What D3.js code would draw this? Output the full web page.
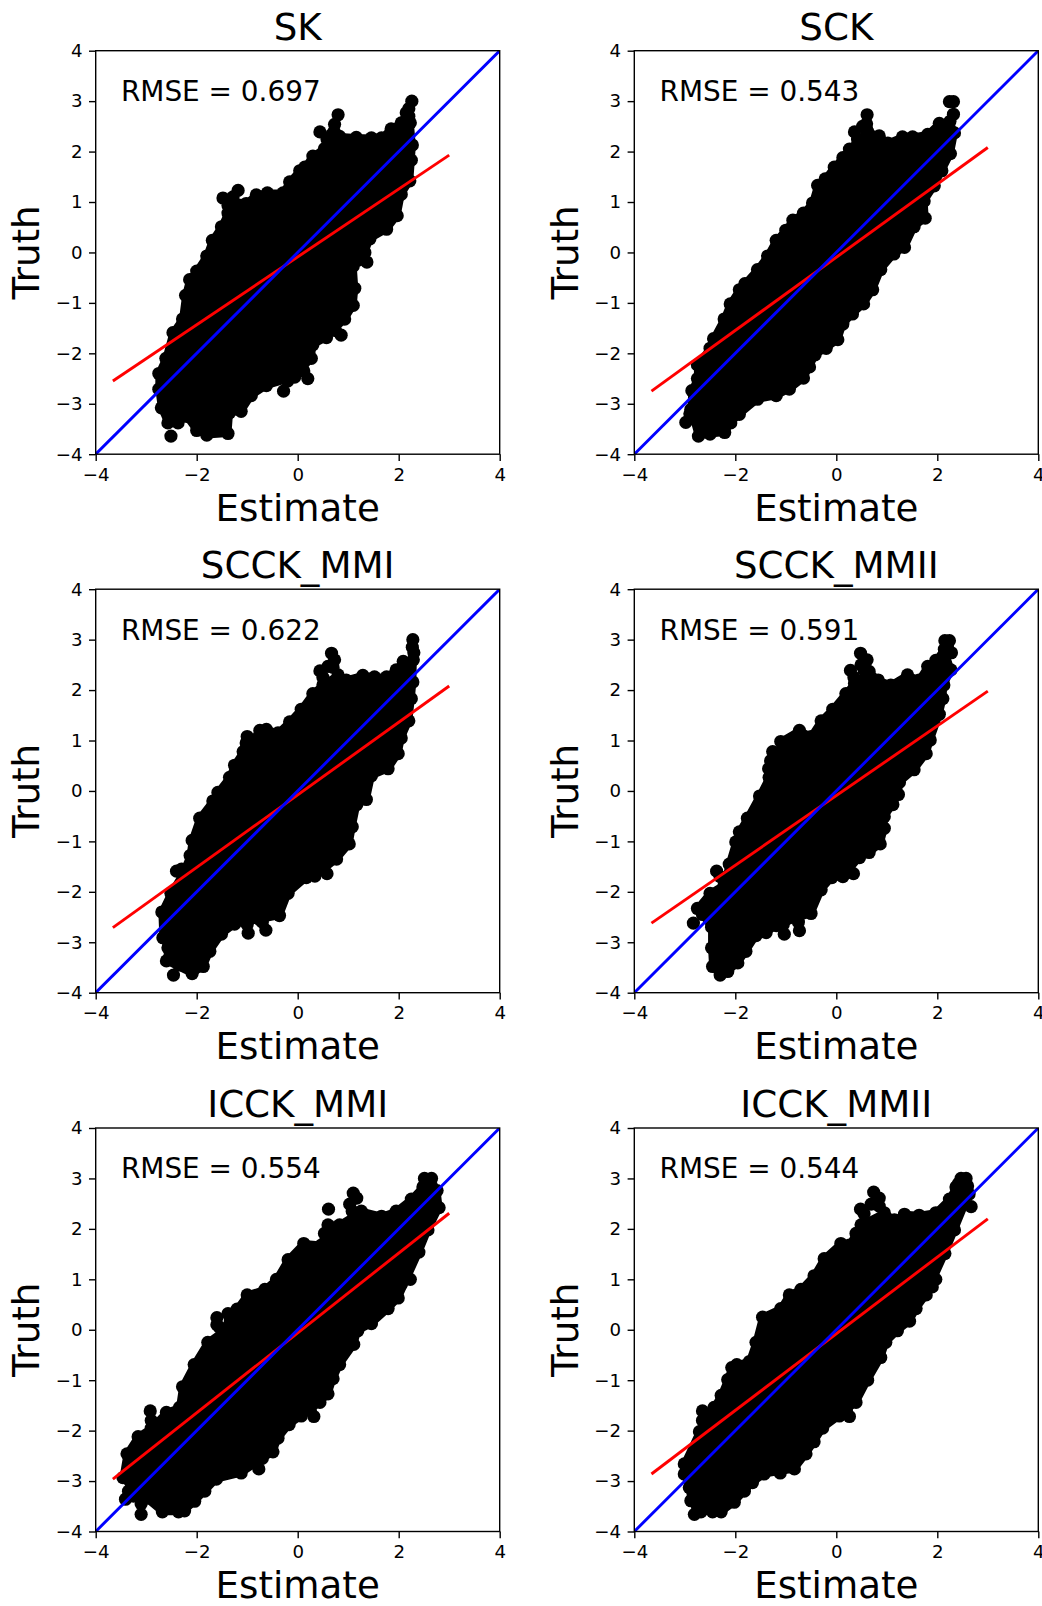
<!DOCTYPE html>
<html>
<head>
<meta charset="utf-8">
<script src="https://cdn.jsdelivr.net/npm/d3@7"></script>
<style>
  body { margin: 0; background: #fff; }
  svg { display: block; }
  svg text { font-family: "DejaVu Sans", sans-serif; fill: #000; }
</style>
</head>
<body>
<svg id="chart"></svg>
<script>
// panel names and fit results, left to right, top to bottom
var titles = ["SK", "SCK", "SCCK_MMI", "SCCK_MMII", "ICCK_MMI", "ICCK_MMII"];
var rmse = ["0.697", "0.543", "0.622", "0.591", "0.554", "0.544"];

// red fit line, truth value at estimate = fitX[0] and fitX[1]
var fitX = [-3.66, 3.0];
var fitY = [[-2.55, 1.93], [-2.75, 2.08], [-2.71, 2.08], [-2.62, 1.98], [-2.96, 2.31], [-2.86, 2.20]];

var ticksX = [-4, -2, 0, 2, 4];
var ticksY = [-4, -3, -2, -1, 0, 1, 2, 3, 4];

// the outer points of each cloud, [estimate, truth]
var skPoints = [[-2.57,-3.38],[-2.70,-3.08],[-2.75,-2.71],[-2.75,-2.40],[-2.61,-2.10],[-2.47,-1.59],[-2.28,-1.32],[-2.22,-0.85],[-2.14,-0.54],[-2.0,-0.37],[-1.8,-0.07],[-1.69,0.24],[-1.51,0.51],[-1.38,0.78],[-1.28,1.02],[-1.02,0.97],[-0.82,1.14],[-0.6,1.18],[-0.29,1.18],[-0.16,1.40],[0.04,1.62],[0.14,1.69],[0.30,1.91],[0.53,2.06],[0.67,2.33],[0.83,2.3],[1.16,2.28],[1.46,2.27],[1.66,2.27],[1.85,2.45],[2.05,2.57],[2.15,2.77],[2.23,2.57],[2.27,2.13],[2.25,1.83],[2.22,1.42],[2.05,1.15],[1.97,0.73],[1.76,0.46],[1.43,0.27],[1.33,0],[1.10,-0.27],[1.13,-0.71],[1.10,-1.05],[0.93,-1.32],[0.57,-1.69],[0.30,-1.83],[0.27,-2.10],[-0.06,-2.47],[-0.62,-2.64],[-0.92,-2.84],[-1.12,-3.15],[-1.35,-3.18],[-1.38,-3.59],[-1.80,-3.62],[-2.0,-3.53],[-2.2,-3.25],[-2.37,-3.38]];
var skStray = [[-2.51,-3.64],[-1.48,1.08],[-1.38,0.93],[-1.28,1.1],[-1.18,1.23],[0.44,2.39],[0.58,2.25],[0.72,2.4],[0.73,2.54],[0.80,2.73],[2.2,2.7],[2.2,2.85],[2.26,3.0],[1.37,-0.19],[1.2,-0.15],[1.3,0.02],[0.86,-1.64],[0.75,-1.55],[0.20,-2.50],[0.12,-2.35],[-0.2,-2.55],[-0.28,-2.75]];
var sckPoints = [[-2.73,-3.64],[-2.88,-3.11],[-2.86,-2.74],[-2.75,-2.50],[-2.75,-2.23],[-2.50,-1.90],[-2.43,-1.71],[-2.22,-1.32],[-2.10,-1.02],[-1.92,-0.74],[-1.81,-0.62],[-1.56,-0.34],[-1.36,-0.07],[-1.19,0.24],[-1.0,0.44],[-0.86,0.64],[-0.65,0.78],[-0.47,0.98],[-0.37,1.33],[-0.22,1.46],[-0.04,1.69],[0.13,1.88],[0.26,2.05],[0.62,2.40],[0.85,2.31],[1.02,2.17],[1.31,2.29],[1.51,2.29],[1.81,2.34],[2.04,2.56],[2.25,2.6],[2.34,2.37],[2.26,1.96],[2.09,1.62],[1.94,1.32],[1.74,1.02],[1.76,0.68],[1.54,0.51],[1.35,0.10],[1.14,-0.03],[0.88,-0.34],[0.72,-0.74],[0.54,-1.02],[0.32,-1.22],[0.13,-1.42],[0.03,-1.73],[-0.20,-1.90],[-0.42,-2.03],[-0.53,-2.27],[-0.65,-2.49],[-0.93,-2.71],[-1.19,-2.84],[-1.56,-2.91],[-1.92,-3.21],[-2.09,-3.38],[-2.21,-3.57],[-2.50,-3.60]];
var sckStray = [[-2.98,-3.37],[-2.9,-3.2],[0.36,2.39],[0.42,2.25],[0.52,2.50],[0.6,2.45],[0.6,2.55],[0.61,2.73],[2.24,2.99],[2.32,2.99],[2.32,2.74]];
var scckMmiPoints = [[-2.60,-3.37],[-2.57,-3.11],[-2.67,-2.91],[-2.69,-2.40],[-2.51,-2.03],[-2.28,-1.65],[-2.13,-1.28],[-2.09,-0.98],[-1.94,-0.54],[-1.68,-0.20],[-1.58,-0.03],[-1.35,0.27],[-1.25,0.51],[-1.08,0.78],[-0.75,1.20],[-0.62,1.22],[-0.39,1.15],[-0.16,1.37],[0.07,1.62],[0.30,1.93],[0.5,2.1],[0.80,2.30],[0.96,2.20],[1.29,2.29],[1.52,2.26],[1.76,2.26],[1.95,2.40],[2.09,2.57],[2.29,2.6],[2.28,2.16],[2.25,1.83],[2.20,1.39],[2.05,1.05],[1.99,0.74],[1.79,0.44],[1.46,0.30],[1.36,-0.17],[1.17,-0.27],[1.08,-0.71],[1.02,-1.05],[0.77,-1.35],[0.34,-1.69],[0.17,-1.72],[-0.19,-2.03],[-0.36,-2.47],[-0.75,-2.55],[-1.25,-2.64],[-1.51,-2.84],[-1.74,-3.18],[-1.87,-3.48],[-2.09,-3.62]];
var scckMmiStray = [[-2.46,-3.65],[-2.35,-3.45],[-2.40,-1.59],[-2.3,-1.55],[-1.0,1.08],[-1.02,0.95],[0.44,2.38],[0.5,2.25],[0.60,2.47],[0.7,2.45],[0.67,2.73],[0.73,2.60],[2.28,3.0],[2.27,2.85],[2.30,2.74],[0.58,-1.64],[-0.63,-2.76],[-0.7,-2.6],[-0.98,-2.82],[-1.0,-2.65]];
var scckMmiiPoints = [[-2.30,-3.65],[-2.45,-3.48],[-2.47,-3.11],[-2.47,-2.70],[-2.75,-2.33],[-2.50,-2.03],[-2.22,-1.86],[-2.12,-1.45],[-1.99,-1.01],[-1.92,-0.81],[-1.76,-0.54],[-1.52,-0.10],[-1.33,0.27],[-1.16,0.54],[-1.10,0.98],[-0.73,1.20],[-0.50,1.08],[-0.30,1.39],[-0.07,1.62],[0.19,1.93],[0.36,2.13],[0.65,2.37],[0.83,2.20],[1.08,2.10],[1.41,2.30],[1.64,2.20],[1.81,2.47],[1.97,2.59],[2.14,2.81],[2.27,2.40],[2.13,2.10],[2.11,1.83],[2.04,1.52],[1.86,1.01],[1.78,0.74],[1.54,0.42],[1.25,0.17],[1.23,-0.07],[1.12,-0.27],[0.95,-0.51],[0.95,-0.74],[0.87,-1.05],[0.65,-1.22],[0.46,-1.32],[0.13,-1.70],[-0.09,-1.72],[-0.30,-1.96],[-0.50,-2.43],[-1.19,-2.67],[-1.39,-2.81],[-1.59,-2.87],[-1.79,-3.18],[-1.95,-3.41],[-2.15,-3.58]];
var scckMmiiStray = [[-2.83,-2.62],[-2.65,-2.45],[-2.37,-1.59],[-2.3,-1.7],[-1.34,0.44],[-1.3,0.6],[-1.26,0.78],[0.28,2.39],[0.35,2.25],[0.49,2.50],[0.55,2.4],[0.48,2.73],[0.61,2.60],[2.15,2.98],[2.2,2.85],[2.24,2.98],[2.28,2.74],[0.34,-1.64],[0.25,-1.55],[-0.73,-2.77],[-0.75,-2.6],[-1.03,-2.84],[-1.05,-2.65]];
var icckMmiPoints = [[-3.29,-3.13],[-3.46,-2.93],[-3.38,-2.46],[-3.16,-2.12],[-2.90,-1.95],[-2.60,-1.64],[-2.34,-1.54],[-2.28,-1.13],[-2.05,-0.69],[-1.78,-0.25],[-1.41,0.02],[-1.38,0.32],[-1.20,0.41],[-1.0,0.69],[-0.65,0.80],[-0.42,1.0],[-0.19,1.39],[0.12,1.71],[0.47,1.68],[0.53,1.91],[0.60,2.08],[0.83,2.08],[1.26,2.35],[1.66,2.25],[1.95,2.35],[2.25,2.59],[2.48,2.83],[2.76,2.76],[2.80,2.42],[2.58,1.98],[2.40,1.54],[1.99,0.63],[1.79,0.42],[1.46,0.12],[1.19,-0.02],[1.11,-0.29],[0.83,-0.69],[0.70,-0.97],[0.60,-1.27],[0.44,-1.44],[0.07,-1.71],[-0.17,-1.88],[-0.39,-2.15],[-0.49,-2.42],[-1.12,-2.84],[-1.61,-2.96],[-1.84,-3.20],[-2.04,-3.40],[-2.24,-3.59],[-2.36,-3.61],[-2.68,-3.61],[-3.0,-3.34]];
var icckMmiStray = [[-3.10,-3.66],[-3.1,-3.45],[-3.41,-3.36],[-3.35,-3.2],[-3.25,-3.3],[-2.92,-1.61],[-2.9,-1.8],[-1.60,0.24],[-1.6,0.1],[-1.55,0.05],[0.61,2.39],[1.03,2.49],[1.08,2.35],[1.10,2.71],[1.17,2.61],[2.51,3.0],[2.55,2.85],[2.65,3.0],[2.65,2.85],[2.23,1.0],[2.15,1.05],[2.05,0.9],[0.32,-1.72],[0.25,-1.6],[-0.77,-2.76],[-0.7,-2.55]];
var icckMmiiPoints = [[-2.88,-3.39],[-2.91,-3.13],[-3.01,-2.86],[-3.01,-2.66],[-2.71,-2.02],[-2.42,-1.54],[-2.28,-1.30],[-2.15,-0.99],[-2.07,-0.75],[-1.97,-0.69],[-1.72,-0.63],[-1.59,-0.25],[-1.46,0.25],[-1.10,0.42],[-0.93,0.69],[-0.70,0.80],[-0.44,1.07],[-0.24,1.41],[0.09,1.71],[0.26,1.68],[0.39,1.91],[0.49,2.08],[0.95,2.32],[1.15,2.18],[1.35,2.29],[1.64,2.27],[1.97,2.32],[2.24,2.59],[2.37,2.83],[2.63,2.69],[2.34,1.98],[2.15,1.51],[1.78,0.69],[1.58,0.42],[1.45,0.17],[1.21,-0.02],[0.98,-0.25],[0.88,-0.55],[0.62,-1.0],[0.39,-1.44],[0.06,-1.71],[-0.27,-1.95],[-0.44,-2.22],[-0.60,-2.46],[-0.83,-2.76],[-1.43,-2.86],[-1.66,-3.03],[-1.82,-3.20],[-2.02,-3.42],[-2.28,-3.61],[-2.45,-3.61],[-2.68,-3.61]];
var icckMmiiStray = [[-2.81,-3.66],[-2.75,-3.5],[-2.65,-1.61],[-2.65,-1.8],[0.48,2.39],[0.55,2.3],[0.69,2.49],[0.74,2.73],[0.85,2.61],[0.85,2.45],[2.47,3.0],[2.42,2.9],[2.57,3.0],[2.6,2.85],[2.67,2.44],[1.97,1.0],[1.9,0.85],[0.26,-1.72],[0.2,-1.6],[-1.11,-2.84],[-1.1,-2.7]];

var clouds = [skPoints, sckPoints, scckMmiPoints, scckMmiiPoints, icckMmiPoints, icckMmiiPoints];
var strays = [skStray, sckStray, scckMmiStray, scckMmiiStray, icckMmiStray, icckMmiiStray];

var width = 1042;
var height = 1606;
var colX = [95.7, 634.3];
var rowY = [50.7, 589.2, 1128];
var plotW = 404;
var plotH = 403.5;

var svg = d3.select("svg#chart")
    .attr("width", width)
    .attr("height", height);

titles.forEach(function (title, i) {
    var left = colX[i % 2];
    var top = rowY[Math.floor(i / 2)];

    var x = d3.scaleLinear().domain([-4, 4]).range([0, plotW]);
    var y = d3.scaleLinear().domain([-4, 4]).range([plotH, 0]);

    var g = svg.append("g").attr("transform", "translate(" + left + "," + top + ")");

    var clipId = "clip" + i;
    g.append("clipPath").attr("id", clipId)
        .append("rect").attr("width", plotW).attr("height", plotH);

    // cloud: filled outline + a dot on every point
    var outline = d3.line().x(function (d) { return x(d[0]); }).y(function (d) { return y(d[1]); });
    g.append("path")
        .attr("d", outline(clouds[i]) + "Z")
        .attr("fill", "#000")
        .attr("stroke", "#000")
        .attr("stroke-width", 7)
        .attr("stroke-linejoin", "round");

    g.selectAll("circle.pt").data(clouds[i].concat(strays[i])).enter().append("circle")
        .attr("class", "pt")
        .attr("cx", function (d) { return x(d[0]); })
        .attr("cy", function (d) { return y(d[1]); })
        .attr("r", 6.6)
        .attr("fill", "#000");

    var lines = g.append("g").attr("clip-path", "url(#" + clipId + ")");

    lines.append("line")
        .attr("x1", x(fitX[0])).attr("y1", y(fitY[i][0]))
        .attr("x2", x(fitX[1])).attr("y2", y(fitY[i][1]))
        .attr("stroke", "#ff0000")
        .attr("stroke-width", 2.9);

    lines.append("line")
        .attr("x1", x(-4)).attr("y1", y(-4))
        .attr("x2", x(4)).attr("y2", y(4))
        .attr("stroke", "#0000ff")
        .attr("stroke-width", 2.9);

    // axes, all four sides boxed
    var axisB = g.append("g").attr("transform", "translate(0," + plotH + ")")
        .call(d3.axisBottom(x).tickValues(ticksX).tickSize(6.7).tickPadding(7));
    var axisL = g.append("g")
        .call(d3.axisLeft(y).tickValues(ticksY).tickSize(6.7).tickPadding(6.5));
    [axisB, axisL].forEach(function (a) {
        a.selectAll("text").style("font-size", "18.2px").style("font-family", '"DejaVu Sans", sans-serif');
        a.selectAll("line").attr("stroke", "#000").attr("stroke-width", 1.4);
        a.select(".domain").attr("stroke", "none");
    });

    g.append("rect")
        .attr("width", plotW).attr("height", plotH)
        .attr("fill", "none")
        .attr("stroke", "#000")
        .attr("stroke-width", 1.4);

    g.append("text")
        .attr("x", x(-3.5)).attr("y", y(3))
        .style("font-size", "27.9px")
        .text("RMSE = " + rmse[i]);

    g.append("text")
        .attr("x", plotW / 2).attr("y", -11.2)
        .attr("text-anchor", "middle")
        .style("font-size", "37.2px")
        .text(title);

    g.append("text")
        .attr("x", plotW / 2).attr("y", plotH + 66.5)
        .attr("text-anchor", "middle")
        .style("font-size", "37.2px")
        .text("Estimate");

    g.append("text")
        .attr("transform", "translate(-56.4," + (plotH / 2) + ") rotate(-90)")
        .attr("text-anchor", "middle")
        .style("font-size", "37.2px")
        .text("Truth");
});
</script>
</body>
</html>
